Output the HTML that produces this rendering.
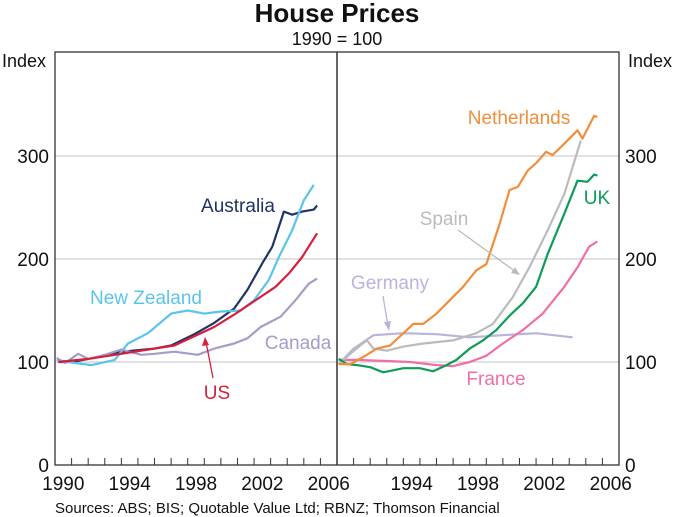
<!DOCTYPE html>
<html><head><meta charset="utf-8"><style>
body{margin:0;background:#fff;}
svg{display:block;font-family:"Liberation Sans",sans-serif;}
</style></head><body>
<svg id="chart" width="674" height="517" viewBox="0 0 674 517">
<text x="337" y="22" text-anchor="middle" font-size="26" font-weight="bold" fill="#111">House Prices</text>
<text x="337" y="45" text-anchor="middle" font-size="18" fill="#111">1990 = 100</text>
<text x="2" y="67" font-size="18" fill="#111">Index</text>
<text x="672" y="67" text-anchor="end" font-size="18" fill="#111">Index</text>
<g id="grid"></g>
<g id="series"></g>
<g id="axes"></g>
<g font-size="19">
<text x="238" y="212" text-anchor="middle" fill="#1f3366">Australia</text>
<text x="146" y="304" text-anchor="middle" fill="#5bc4ea">New Zealand</text>
<text x="298" y="349" text-anchor="middle" fill="#a49cc9">Canada</text>
<text x="217" y="399" text-anchor="middle" fill="#d71f3c">US</text>
<line x1="213" y1="378" x2="206" y2="342" stroke="#d71f3c" stroke-width="1.3"/>
<polygon points="205,337 202,346 209,345" fill="#d71f3c"/>
<text x="519" y="124" text-anchor="middle" fill="#f08e3a">Netherlands</text>
<text x="597" y="204" text-anchor="middle" fill="#0f9b58">UK</text>
<text x="444" y="225" text-anchor="middle" fill="#bbbbbb">Spain</text>
<line x1="458" y1="230" x2="516" y2="272" stroke="#bbbbbb" stroke-width="1.3"/>
<polygon points="520,275 511,273 515,267" fill="#bbbbbb"/>
<text x="390" y="289" text-anchor="middle" fill="#b8b4dc">Germany</text>
<line x1="383" y1="296" x2="388" y2="326" stroke="#b8b4dc" stroke-width="1.3"/>
<polygon points="389,331 384,322 391,321" fill="#b8b4dc"/>
<text x="496" y="385" text-anchor="middle" fill="#ef6fa6">France</text>
</g>
<text x="55" y="513" font-size="15" fill="#111">Sources: ABS; BIS; Quotable Value Ltd; RBNZ; Thomson Financial</text>
</svg>
<script>
const yTicks=[0,100,200,300];
const xTickLabels=[1990,1994,1998,2002,2006];
const ausYears=[1990.2,1991,1992,1994,1996,1997,1998.4,1999.6,2000.8,2001.6,2002.5,2003.1,2003.8,2004.3,2004.9,2005.6,2005.8];
const ausValues=[100,100,103,110,113,116,127,138,152,170,196,212,246,243,246,248,252];
const nzYears=[1990.1,1991.2,1992.2,1993.6,1994.4,1995.6,1997.0,1998.0,1999.0,2000.0,2001.2,2002.0,2002.9,2003.5,2004.3,2005.0,2005.6];
const nzValues=[102,99,97,102,118,128,147,150,147,149,150,160,180,202,228,257,272];
const usYears=[1990.2,1992,1994,1996,1997.2,1998.4,1999.6,2000.8,2002.0,2003.3,2004.1,2004.9,2005.8];
const usValues=[100,103,108,113,116,125,134,146,159,173,186,202,225];
const caYears=[1990.1,1990.6,1991.4,1992,1993,1994,1995.2,1996,1997.2,1998.6,1999.6,2000.8,2001.6,2002.4,2003.6,2004.5,2005.3,2005.8];
const caValues=[104,99,108,103,107,112,107,108,110,107,113,118,123,134,144,160,176,181];
const nlYears=[1990.1,1990.8,1991.6,1992.4,1993.2,1994.0,1994.6,1995.2,1996.0,1996.8,1997.6,1998.4,1999.0,1999.8,2000.4,2000.9,2001.5,2002.0,2002.6,2003.0,2003.7,2004.5,2004.8,2005.5,2005.7];
const nlValues=[98,98,105,113,116,128,137,137,147,160,173,189,195,234,267,270,286,293,304,301,312,325,317,339,338];
const esYears=[1990.1,1990.8,1991.4,1991.8,1992.2,1993.0,1994.0,1995.2,1997.0,1998.4,1999.4,2000.6,2001.6,2002.7,2003.7,2004.7];
const esValues=[98,108,116,121,113,111,115,118,121,128,137,163,192,228,263,315];
const ukYears=[1990.1,1990.6,1991.2,1992.0,1992.8,1994.0,1995.0,1995.8,1996.6,1997.2,1998.0,1998.8,1999.6,2000.4,2001.2,2002.0,2002.7,2003.7,2004.5,2005.1,2005.5,2005.7];
const ukValues=[103,98,97,95,90,94,94,91,97,102,113,121,131,145,157,173,205,244,276,275,282,281];
const frYears=[1990.1,1991.2,1993.0,1994.4,1996.0,1997.0,1998.0,1999.0,2000.0,2001.2,2002.4,2003.7,2004.5,2005.2,2005.7];
const frValues=[102,102,101,100,97,96,100,106,118,131,147,173,192,212,217];
const deYears=[1990.1,1991,1992.2,1994,1996,1998,2000,2002,2004.2];
const deValues=[98,113,126,128,127,124,126,128,124];

const NS='http://www.w3.org/2000/svg';
const plotTop=52,plotBottom=465,vmax=401;
const panels=[{x0:55,x1:337},{x0:337,x1:619}];
function yScale(v){return plotBottom-(v/vmax)*(plotBottom-plotTop);}
function xScale(p,yr){const P=panels[p];return P.x0+(yr-1990)/17*(P.x1-P.x0);}
function mk(tag,parent){const e=document.createElementNS(NS,tag);document.getElementById(parent).appendChild(e);return e;}

yTicks.forEach(t=>{
  if(t>0){const g=mk('line','grid');
  g.setAttribute('x1',55);g.setAttribute('x2',619);g.setAttribute('y1',yScale(t));g.setAttribute('y2',yScale(t));
  g.setAttribute('stroke','#cfcfcf');g.setAttribute('stroke-width','1.2');
  
  }
  const l=mk('text','axes');l.textContent=t;
  l.setAttribute('x',49);l.setAttribute('y',yScale(t)+7);l.setAttribute('text-anchor','end');l.setAttribute('font-size','19');l.setAttribute('fill','#111');
  
  
  const r=mk('text','axes');r.textContent=t;
  r.setAttribute('x',625);r.setAttribute('y',yScale(t)+7);r.setAttribute('font-size','19');r.setAttribute('fill','#111');
  
  
});

const series=[
 [0,ausYears,ausValues,'#1f3366','australia'],
 [0,nzYears,nzValues,'#5bc4ea','new-zealand'],
 [0,caYears,caValues,'#a49cc9','canada'],
 [0,usYears,usValues,'#d71f3c','us'],
 [1,deYears,deValues,'#b8b4dc','germany'],
 [1,frYears,frValues,'#ef6fa6','france'],
 [1,esYears,esValues,'#bbbbbb','spain'],
 [1,ukYears,ukValues,'#0f9b58','uk'],
 [1,nlYears,nlValues,'#f08e3a','netherlands']
];
series.forEach(s=>{
  const pl=mk('polyline','series');
  pl.setAttribute('points',s[1].map((yr,i)=>xScale(s[0],yr).toFixed(1)+','+yScale(s[2][i]).toFixed(1)).join(' '));
  pl.setAttribute('fill','none');pl.setAttribute('stroke',s[3]);pl.setAttribute('stroke-width','2.2');pl.setAttribute('stroke-linejoin','round');
  
  
});

const fr=mk('rect','axes');
fr.setAttribute('x',55);fr.setAttribute('y',plotTop);fr.setAttribute('width',564);fr.setAttribute('height',plotBottom-plotTop);
fr.setAttribute('fill','none');fr.setAttribute('stroke','#333');fr.setAttribute('stroke-width','1.3');


const dv=mk('line','axes');
dv.setAttribute('x1',337);dv.setAttribute('x2',337);dv.setAttribute('y1',plotTop);dv.setAttribute('y2',plotBottom);
dv.setAttribute('stroke','#333');dv.setAttribute('stroke-width','1.5');


[0,1].forEach(p=>{
  for(let k=1;k<17;k++){
    const t=mk('line','axes');
    t.setAttribute('x1',xScale(p,1990+k));t.setAttribute('x2',xScale(p,1990+k));t.setAttribute('y1',plotBottom);t.setAttribute('y2',plotBottom-7);
    t.setAttribute('stroke','#333');t.setAttribute('stroke-width','1');
    
    
  }
  xTickLabels.forEach(yr=>{
    if(p===1&&yr===1990)return;
    const l=mk('text','axes');l.textContent=yr;
    l.setAttribute('x',xScale(p,yr+0.5));l.setAttribute('y',plotBottom+25);l.setAttribute('text-anchor','middle');l.setAttribute('font-size','19');l.setAttribute('fill','#111');
    
    
  });
});
</script>
</body></html>
